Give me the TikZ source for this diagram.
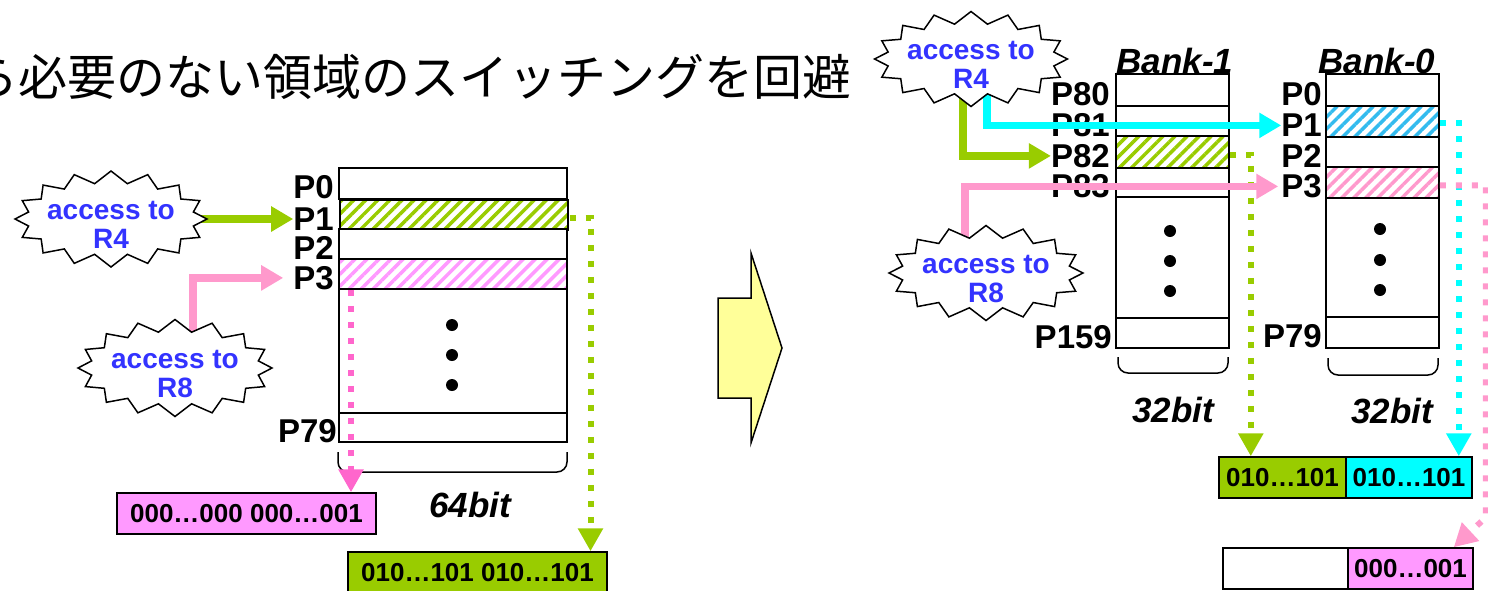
\documentclass[tikz,border=0pt]{standalone}
\usepackage{fontspec}
\setmainfont{Liberation Sans}
\newfontfamily\jpfont{Noto Sans CJK JP}
\usetikzlibrary{arrows.meta,shapes.symbols,patterns.meta}
\pgfdeclarelayer{front}
\pgfsetlayers{main,front}
\definecolor{cgreen}{HTML}{99CC00}
\definecolor{cpink}{HTML}{FF99CC}
\definecolor{cpinkdot}{HTML}{FF66CC}
\definecolor{cmag}{HTML}{FF99FF}
\definecolor{ccyan}{HTML}{00FFFF}
\definecolor{chblue}{HTML}{33BBEE}
\definecolor{cblue}{HTML}{3333FF}
\definecolor{cyellow}{HTML}{FFFF99}
\newcommand{\fsz}[1]{\fontsize{#1}{#1}\selectfont}
\tikzset{
  cellbase/.style={draw, line width=1.8pt, fill=white, inner sep=0pt, anchor=north west},
  lcell/.style={cellbase, minimum width=228pt, minimum height=#1},
  rcell/.style={cellbase, minimum width=113pt, minimum height=#1},
  hatch/.style={pattern={Lines[angle=45,distance=8.5pt,line width=3.5pt]}, pattern color=#1},
  plab/.style={font=\bfseries\fsz{33}, anchor=east, inner sep=0pt},
  blab/.style={font=\bfseries\itshape\fsz{35}, inner sep=0pt},
  burst/.style={shape=starburst, draw, line width=1.5pt, fill=white, starburst points=16, starburst point height=12pt, random starburst=0, inner sep=0pt},
  bursttext/.style={align=center, text=cblue, font=\bfseries\fontsize{28}{29}\selectfont, inner sep=0pt},
  res/.style={draw, line width=1.5pt, minimum height=41pt, inner sep=0pt, font=\bfseries\fsz{26}, fill=#1},
  solid arrow/.style={draw=#1, line width=7.5pt, -{Triangle[width=24pt,length=22pt]}},
  dot arrow/.style={draw=#1, line width=6pt, dash pattern=on 6pt off 10pt, -{Triangle[width=24pt,length=23pt]}},
  brace/.style={draw, line width=1.5pt, rounded corners=10pt},
  bigdot/.style={fill=black}
}
\begin{document}
\begin{tikzpicture}[x=1pt,y=-1pt]
\useasboundingbox (0,0) rectangle (1488,590);
% title
\node[anchor=base west, inner sep=0pt, font=\jpfont\fsz{49}] (title) at (-31,95) {ら必要のない領域のスイッチングを回避};
% bursts (front layer)
\begin{pgfonlayer}{front}
\node[burst, minimum width=192pt, minimum height=96pt] (lb4) at (111,219) {};
\node[bursttext] (lb4t) at ([yshift=-6pt]lb4.center) {access to\\R4};
\node[burst, minimum width=194pt, minimum height=97pt] (lb8) at (175,368) {};
\node[bursttext] (lb8t) at ([yshift=-6pt]lb8.center) {access to\\R8};
\node[burst, minimum width=193pt, minimum height=95pt] (rb4) at (971,59) {};
\node[bursttext] (rb4t) at ([yshift=-6pt]rb4.center) {access to\\R4};
\node[burst, minimum width=194pt, minimum height=95pt] (rb8) at (986,273) {};
\node[bursttext] (rb8t) at ([yshift=-6pt]rb8.center) {access to\\R8};
\end{pgfonlayer}
% bank titles (under cells)
\node[blab] (bank1) at (1175,61) {Bank-1};
\node[blab] (bank0) at (1377,61) {Bank-0};
% left bank
\node[lcell=31pt] (L0) at (338,167) {};
\node[lcell=30pt, hatch=cgreen] (L1) at (338,198) {};
\node[lcell=30pt] (L2) at (338,228) {};
\node[lcell=30pt, hatch=cmag] (L3) at (338,258) {};
\node[lcell=124pt] (Lm) at (338,288) {};
\node[lcell=29pt] (L79) at (338,412) {};
\node[plab] (lP0) at ([xshift=-4pt,yshift=-4pt]L0.west) {P0};
\node[plab] (lP1) at ([xshift=-4pt,yshift=-4pt]L1.west) {P1};
\node[plab] (lP2) at ([xshift=-4pt,yshift=-4pt]L2.west) {P2};
\node[plab] (lP3) at ([xshift=-4pt,yshift=-4pt]L3.west) {P3};
\node[plab] (lP79) at ([xshift=-1pt,yshift=-4pt]L79.west) {P79};
\fill[bigdot] (452,325) circle[radius=6pt];
\fill[bigdot] (452,355) circle[radius=6pt];
\fill[bigdot] (452,385) circle[radius=6pt];
\draw[brace] (338,452) -- (338,472) -- (567,472) -- (567,452);
\node[blab] (w64) at (470,505) {64bit};
% right banks
\node[rcell=32pt] (R80) at (1115,73) {};
\node[rcell=30pt] (R81) at (1115,105) {};
\node[rcell=32pt, hatch=cgreen] (R82) at (1115,135) {};
\node[rcell=29pt] (R83) at (1115,167) {};
\node[rcell=121pt] (Rm) at (1115,196) {};
\node[rcell=30pt] (R159) at (1115,317) {};
\node[rcell=32pt] (B0) at (1325,73) {};
\node[rcell=31pt, hatch=chblue] (B1) at (1325,105) {};
\node[rcell=30pt] (B2) at (1325,136) {};
\node[rcell=31pt, hatch=cpink] (B3) at (1325,166) {};
\node[rcell=119pt] (Bm) at (1325,197) {};
\node[rcell=31pt] (B79) at (1325,316) {};
\node[plab] (rP80) at ([xshift=-5pt,yshift=-4pt]R80.west) {P80};
\node[plab] (rP81) at ([xshift=-5pt,yshift=-4pt]R81.west) {P81};
\node[plab] (rP82) at ([xshift=-5pt,yshift=-4pt]R82.west) {P82};
\node[plab] (rP83) at ([xshift=-5pt,yshift=-4pt]R83.west) {P83};
\node[plab] (rP159) at ([xshift=-3pt,yshift=-4pt]R159.west) {P159};
\node[plab] (bP0) at ([xshift=-3pt,yshift=-4pt]B0.west) {P0};
\node[plab] (bP1) at ([xshift=-3pt,yshift=-4pt]B1.west) {P1};
\node[plab] (bP2) at ([xshift=-3pt,yshift=-4pt]B2.west) {P2};
\node[plab] (bP3) at ([xshift=-3pt,yshift=-4pt]B3.west) {P3};
\node[plab] (bP79) at ([xshift=-3pt,yshift=-4pt]B79.west) {P79};
\fill[bigdot] (1170,231) circle[radius=6pt];
\fill[bigdot] (1170,261) circle[radius=6pt];
\fill[bigdot] (1170,291) circle[radius=6pt];
\fill[bigdot] (1380,229) circle[radius=6pt];
\fill[bigdot] (1380,260) circle[radius=6pt];
\fill[bigdot] (1380,290) circle[radius=6pt];
\draw[brace] (1118,357) -- (1118,373) -- (1228,373) -- (1228,357);
\draw[brace] (1328,358) -- (1328,375) -- (1438,375) -- (1438,358);
\node[blab] (w32a) at (1173,410) {32bit};
\node[blab] (w32b) at (1392,411) {32bit};
% result registers
\node[res=cmag, minimum width=259pt] (resL1) at (246.5,513.5) {000…000 000…001};
\node[res=cgreen, minimum width=259pt] (resL2) at (477.5,572.5) {010…101 010…101};
\node[res=cgreen, minimum width=127pt] (resG) at (1282.5,477.5) {010…101};
\node[res=ccyan, minimum width=126pt] (resC) at (1409,477.5) {010…101};
\node[res=white, minimum width=125pt] (resW) at (1285.5,568.5) {};
\node[res=cmag, minimum width=125pt] (resP) at (1410.5,568.5) {000…001};
% big yellow arrow
\draw[fill=cyellow, line width=1.5pt, line join=miter] (718,298) -- (751,298) -- (751,253) -- (782,348) -- (751,443) -- (751,398) -- (718,398) -- cycle;
% dotted read-out arrows
\draw[dot arrow=cpinkdot] ([xshift=13pt]L3.south west) -- ([xshift=13pt]L3.south west |- resL1.north);
\draw[dot arrow=cgreen] ([yshift=-3pt]L1.east) -| ([xshift=21pt]L1.east |- resL2.north);
\draw[dot arrow=cgreen] ([yshift=-3pt]R82.east) -| ([xshift=21pt]R82.east |- resG.north);
\draw[dot arrow=ccyan] ([yshift=-2pt]B1.east) -| ([xshift=19pt]B1.east |- resC.north);
\draw[dot arrow=cpink] ([yshift=-3pt]B3.east) -- ++(46,0) -- ++(0,332) -- ([xshift=-20pt]resP.north east);
% access arrows
\draw[solid arrow=cgreen] (lb4.center) -- (lb4.center -| lP1.west);
\draw[solid arrow=cpink] ([xshift=18pt]lb8.center) |- ([xshift=-10pt]lP3.west);
\draw[solid arrow=cgreen] ([xshift=-8pt]rb4.center) |- (rP82.west);
\draw[solid arrow=ccyan] ([xshift=16pt]rb4.center) |- (bP1.west);
\draw[solid arrow=cpink] ([xshift=-21pt]rb8.center) |- ([xshift=-3pt]bP3.west);
\end{tikzpicture}
\end{document}
